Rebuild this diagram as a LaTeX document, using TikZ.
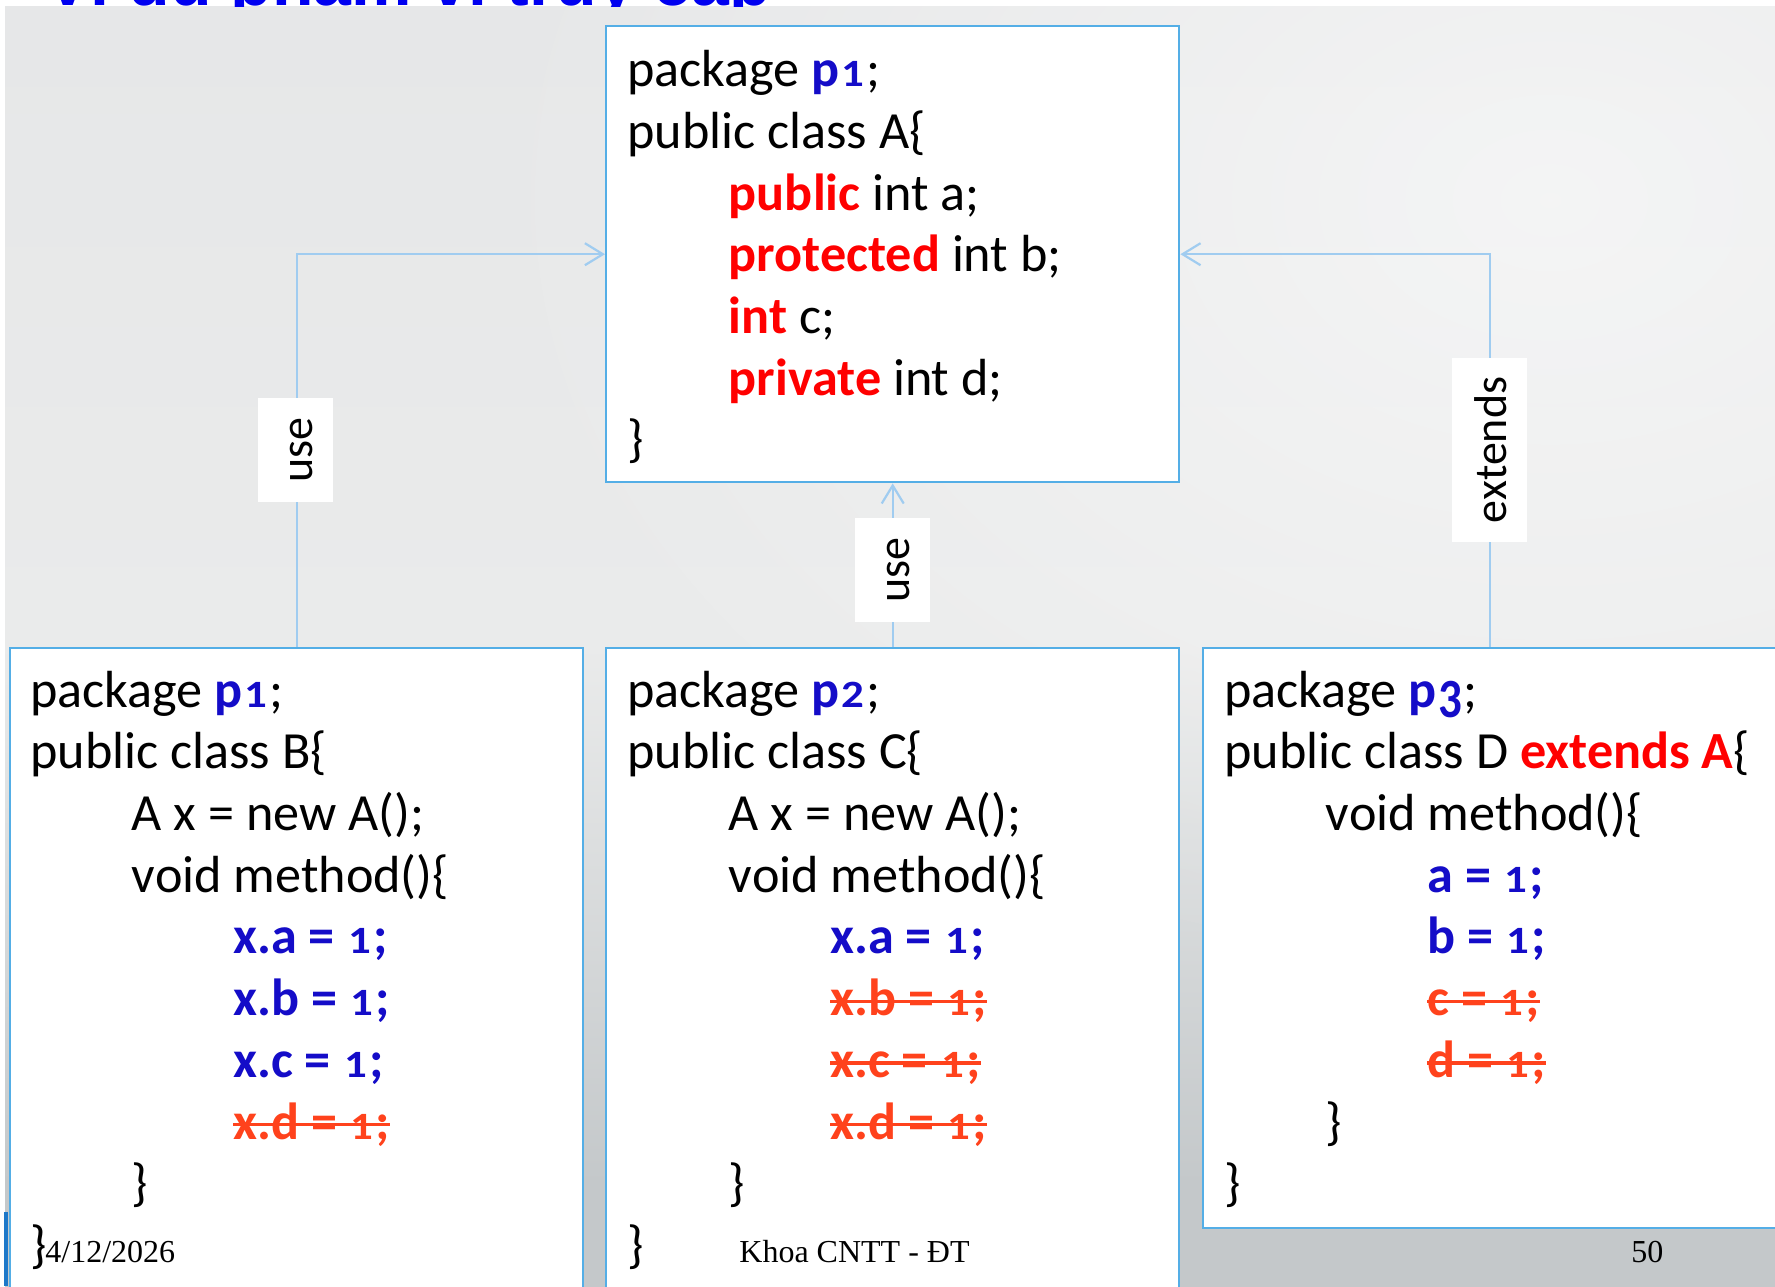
\documentclass[tikz,border=0pt]{standalone}
\usepackage{fontspec}
\setmainfont{Carlito}
\newfontfamily\footfont{Liberation Serif}
\newfontfamily\titlefont{Liberation Sans}
\usetikzlibrary{arrows.meta,fadings}

\definecolor{boxline}{RGB}{84,174,230}
\definecolor{linkline}{RGB}{160,204,240}
\definecolor{kwblue}{RGB}{20,12,200}
\definecolor{kwred}{RGB}{255,0,0}
\definecolor{strikered}{RGB}{255,66,28}
\definecolor{titleblue}{RGB}{0,0,240}
\definecolor{bgbot}{RGB}{196,200,202}
\definecolor{bgmid}{RGB}{234,235,235}
\definecolor{bgtop}{RGB}{230,231,232}
\definecolor{edgeblue}{RGB}{30,120,200}

% slide background: light at the top, grey towards the bottom
\pgfdeclareverticalshading{slidebg}{100bp}{color(0bp)=(bgbot); color(25bp)=(bgbot);
  color(29bp)=(bgbot); color(50bp)=(bgmid); color(75bp)=(bgtop); color(100bp)=(bgtop)}
\tikzfading[name=glowfade, inner color=transparent!0, outer color=transparent!100]

\newcommand\codesize{\fontsize{26.1}{30.85}\selectfont}
\newcommand\codeindent{\hspace*{50.75pt}}
\newcommand\kwb[1]{{\bfseries\color{kwblue}#1}}
\newcommand\kwr[1]{{\bfseries\color{kwred}#1}}
\newsavebox\strikebox
\newcommand\struck[1]{\sbox\strikebox{#1}\rlap{\rule[0.24em]{\wd\strikebox}{0.065em}}\usebox\strikebox}
\newcommand\gone[1]{{\bfseries\color{strikered}\struck{#1}}}
% old-style figures: x-height digits, the 3 hanging below the baseline
\newsavebox\digbox
\newcommand\osd[1]{\sbox\digbox{#1}\makebox[\wd\digbox]{\scalebox{0.86}[0.74]{#1}}}
\newcommand\osdlow[1]{\sbox\digbox{#1}\makebox[\wd\digbox]{\raisebox{-0.2em}{\scalebox{0.9}[1.06]{#1}}}}

\begin{document}
\begin{tikzpicture}[x=0.5pt,y=-0.5pt,
  codebox/.style={draw=boxline, line width=1.2pt, fill=white, rectangle, inner sep=0pt, anchor=north west},
  link/.style={draw=linkline, line width=1.1pt, -{Straight Barb[length=9pt,width=11pt]}},
  lbl/.style={fill=white, rotate=90, font=\fontsize{23}{27}\selectfont, inner xsep=9.5pt,
    inner ysep=0pt, minimum height=37.5pt, text height=17pt, text depth=0pt},
  code/.style={anchor=north west, inner sep=0pt, align=left, font=\codesize},
  foot/.style={anchor=base west, inner sep=0pt, font=\footfont\fontsize{16}{19}\selectfont}]

\useasboundingbox (0,0) rectangle (1775,1286);
\fill[white] (0,0) rectangle (1775,1286);
\shade[shading=slidebg] (5,6) rectangle (1775,1286);
\fill[white, fill opacity=0.55, path fading=glowfade] (1550,200) ellipse [x radius=1100, y radius=800];
\fill[edgeblue] (4,1212) rectangle (8,1286);

% slide title, almost entirely above the visible area
\begin{scope}
  \clip (0,0) rectangle (1775,6);
  \node[anchor=base west, inner sep=0pt, text=titleblue,
        font=\titlefont\bfseries\fontsize{34}{38}\selectfont] (title) at (45,5)
        {Ví dụ phạm vi truy cập};
\end{scope}

% class boxes
\node[codebox, minimum width=286.5pt, minimum height=228pt] (A) at (605,25) {};
\node[codebox, minimum width=286.5pt, minimum height=327pt] (B) at (9,647) {};
\node[codebox, minimum width=286.5pt, minimum height=327pt] (C) at (605,647) {};
\node[codebox, minimum width=287pt, minimum height=290pt] (D) at (1202,647) {};

% relations
\draw[link] (B.north) |- (A.west);
\draw[link] (C.north) -- (A.south);
\draw[link] (D.north) |- (A.east);
\node[lbl] (useB) at (295,450) {use};
\node[lbl] (useC) at (892,570) {use};
\node[lbl] (extD) at (1489,450) {extends};

% code
\node[code] (codeA) at (627,43) {%
\strut package \kwb{p\osd{1}};\\
\strut public class A\{\\
\strut\codeindent\kwr{public} int a;\\
\strut\codeindent\kwr{protected} int b;\\
\strut\codeindent\kwr{int} c;\\
\strut\codeindent\kwr{private} int d;\\
\strut\}};

\node[code] (codeB) at (30,663.5) {%
\strut package \kwb{p\osd{1}};\\
\strut public class B\{\\
\strut\codeindent A x = new A();\\
\strut\codeindent void method()\{\\
\strut\codeindent\codeindent\kwb{x.a = \osd{1};}\\
\strut\codeindent\codeindent\kwb{x.b = \osd{1};}\\
\strut\codeindent\codeindent\kwb{x.c = \osd{1};}\\
\strut\codeindent\codeindent\gone{x.d = \osd{1};}\\
\strut\codeindent\}\\
\strut\}};

\node[code] (codeC) at (627,663.5) {%
\strut package \kwb{p\osd{2}};\\
\strut public class C\{\\
\strut\codeindent A x = new A();\\
\strut\codeindent void method()\{\\
\strut\codeindent\codeindent\kwb{x.a = \osd{1};}\\
\strut\codeindent\codeindent\gone{x.b = \osd{1};}\\
\strut\codeindent\codeindent\gone{x.c = \osd{1};}\\
\strut\codeindent\codeindent\gone{x.d = \osd{1};}\\
\strut\codeindent\}\\
\strut\}};

\node[code] (codeD) at (1224,663.5) {%
\strut package \kwb{p\osdlow{3}};\\
\strut public class D \kwr{extends A}\{\\
\strut\codeindent void method()\{\\
\strut\codeindent\codeindent\kwb{a = \osd{1};}\\
\strut\codeindent\codeindent\kwb{b = \osd{1};}\\
\strut\codeindent\codeindent\gone{c = \osd{1};}\\
\strut\codeindent\codeindent\gone{d = \osd{1};}\\
\strut\codeindent\}\\
\strut\}};

% footer
\node[foot] (date) at (45,1262) {4/12/2026};
\node[foot] (dept) at (739,1262) {Khoa CNTT - ĐT};
\node[foot] (page) at (1631,1262) {50};
\end{tikzpicture}
\end{document}
